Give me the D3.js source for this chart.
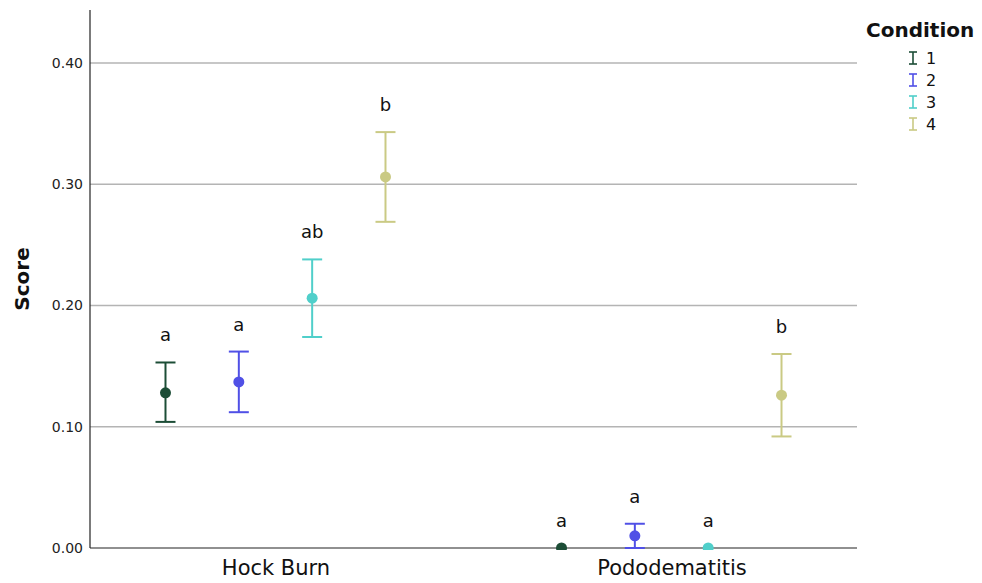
<!DOCTYPE html>
<html><head><meta charset="utf-8">
<script src="https://cdn.jsdelivr.net/npm/d3@7"></script>
<style>body{margin:0;background:#fff;} svg{display:block;font-family:"DejaVu Sans",sans-serif;}</style>
</head><body><svg id="c" width="982" height="583"></svg>
<script>
const categories = ["Hock Burn", "Pododematitis"];
const conditions = ["1", "2", "3", "4"];
const colors = ["#1c4d36", "#5050e6", "#50cfca", "#caca84"];
// means, lower and upper CI by category (rows) and condition (cols)
const means = [[0.128, 0.137, 0.206, 0.306], [0.000, 0.010, 0.000, 0.126]];
const lower = [[0.104, 0.112, 0.174, 0.269], [0.000, 0.000, 0.000, 0.092]];
const upper = [[0.153, 0.162, 0.238, 0.343], [0.000, 0.020, 0.000, 0.160]];
const letters = [["a", "a", "ab", "b"], ["a", "a", "a", "b"]];
const yTicks = [0, 0.1, 0.2, 0.3, 0.4];

const svg = d3.select("#c");
const L = 90, R = 857, T = 10, B = 548;
const y = d3.scaleLinear().domain([0, 0.4437]).range([B, T]);
const x = d3.scalePoint().domain(categories).range([L, R]).padding(0.4684);
const xs = d3.scalePoint().domain(conditions).range([-110, 110]);

// gridlines
svg.append("g").selectAll("line").data(yTicks.filter(d => d > 0)).join("line")
  .attr("x1", L).attr("x2", R).attr("y1", d => y(d)).attr("y2", d => y(d))
  .attr("stroke", "#b4b4b4").attr("stroke-width", 1.3);

// y axis
const ya = svg.append("g").attr("transform", `translate(${L},0)`)
  .call(d3.axisLeft(y).tickValues(yTicks).tickFormat(d3.format(".2f")).tickSize(0).tickPadding(7));
ya.select(".domain").remove();
ya.selectAll("text").attr("font-size", 14).attr("fill", "#222").attr("font-family", "DejaVu Sans");
svg.append("line").attr("x1", L).attr("x2", L).attr("y1", T).attr("y2", B).attr("stroke", "#222").attr("stroke-width", 1.2);

// x axis
const xa = svg.append("g").attr("transform", `translate(0,${B})`)
  .call(d3.axisBottom(x).tickSize(0).tickPadding(12));
xa.select(".domain").remove();
xa.selectAll("text").attr("font-size", 21).attr("fill", "#111").attr("font-family", "DejaVu Sans");
svg.append("line").attr("x1", L).attr("x2", R).attr("y1", B).attr("y2", B).attr("stroke", "#222").attr("stroke-width", 1.2);

// y title
svg.append("text").attr("transform", `translate(29,${(T + B) / 2}) rotate(-90)`)
  .attr("text-anchor", "middle").attr("font-size", 20).attr("font-weight", "bold").attr("fill", "#111")
  .text("Score");

// clip
svg.append("clipPath").attr("id", "clip").append("rect").attr("x", L).attr("y", 0).attr("width", R - L).attr("height", B + 2);

const rows = [];
categories.forEach((c, i) => conditions.forEach((k, j) => rows.push({
  c, k, j, m: means[i][j], lo: lower[i][j], hi: upper[i][j], lab: letters[i][j]
})));

const g = svg.append("g").attr("clip-path", "url(#clip)");
const cap = 10;
const gi = g.selectAll("g.pt").data(rows).join("g").attr("class", "pt")
  .attr("transform", d => `translate(${x(d.c) + xs(d.k)},0)`);
gi.filter(d => d.hi > d.lo).each(function(d) {
  const s = d3.select(this), col = colors[d.j];
  s.append("line").attr("x1", 0).attr("x2", 0).attr("y1", y(d.lo)).attr("y2", y(d.hi)).attr("stroke", col).attr("stroke-width", 2);
  s.append("line").attr("x1", -cap).attr("x2", cap).attr("y1", y(d.lo)).attr("y2", y(d.lo)).attr("stroke", col).attr("stroke-width", 2);
  s.append("line").attr("x1", -cap).attr("x2", cap).attr("y1", y(d.hi)).attr("y2", y(d.hi)).attr("stroke", col).attr("stroke-width", 2);
});
gi.append("circle").attr("cx", 0).attr("cy", d => y(d.m)).attr("r", 5.5).attr("fill", d => colors[d.j]);

// letters
svg.append("g").selectAll("text").data(rows).join("text")
  .attr("x", d => x(d.c) + xs(d.k)).attr("y", d => y(d.hi) - 21)
  .attr("text-anchor", "middle").attr("font-size", 18).attr("fill", "#111").text(d => d.lab);

// legend
const lg = svg.append("g");
lg.append("text").attr("x", 866).attr("y", 37).attr("font-size", 20).attr("font-weight", "bold").attr("fill", "#111").text("Condition");
const li = lg.selectAll("g.li").data(conditions).join("g").attr("class", "li")
  .attr("transform", (d, i) => `translate(913,${58 + i * 22})`);
li.append("line").attr("x1", 0).attr("x2", 0).attr("y1", -6).attr("y2", 6).attr("stroke", (d, i) => colors[i]).attr("stroke-width", 1.6);
li.append("line").attr("x1", -4).attr("x2", 4).attr("y1", -6).attr("y2", -6).attr("stroke", (d, i) => colors[i]).attr("stroke-width", 1.6);
li.append("line").attr("x1", -4).attr("x2", 4).attr("y1", 6).attr("y2", 6).attr("stroke", (d, i) => colors[i]).attr("stroke-width", 1.6);
li.append("text").attr("x", 13).attr("y", 6).attr("font-size", 16).attr("fill", "#111").text(d => d);
</script></body></html>
